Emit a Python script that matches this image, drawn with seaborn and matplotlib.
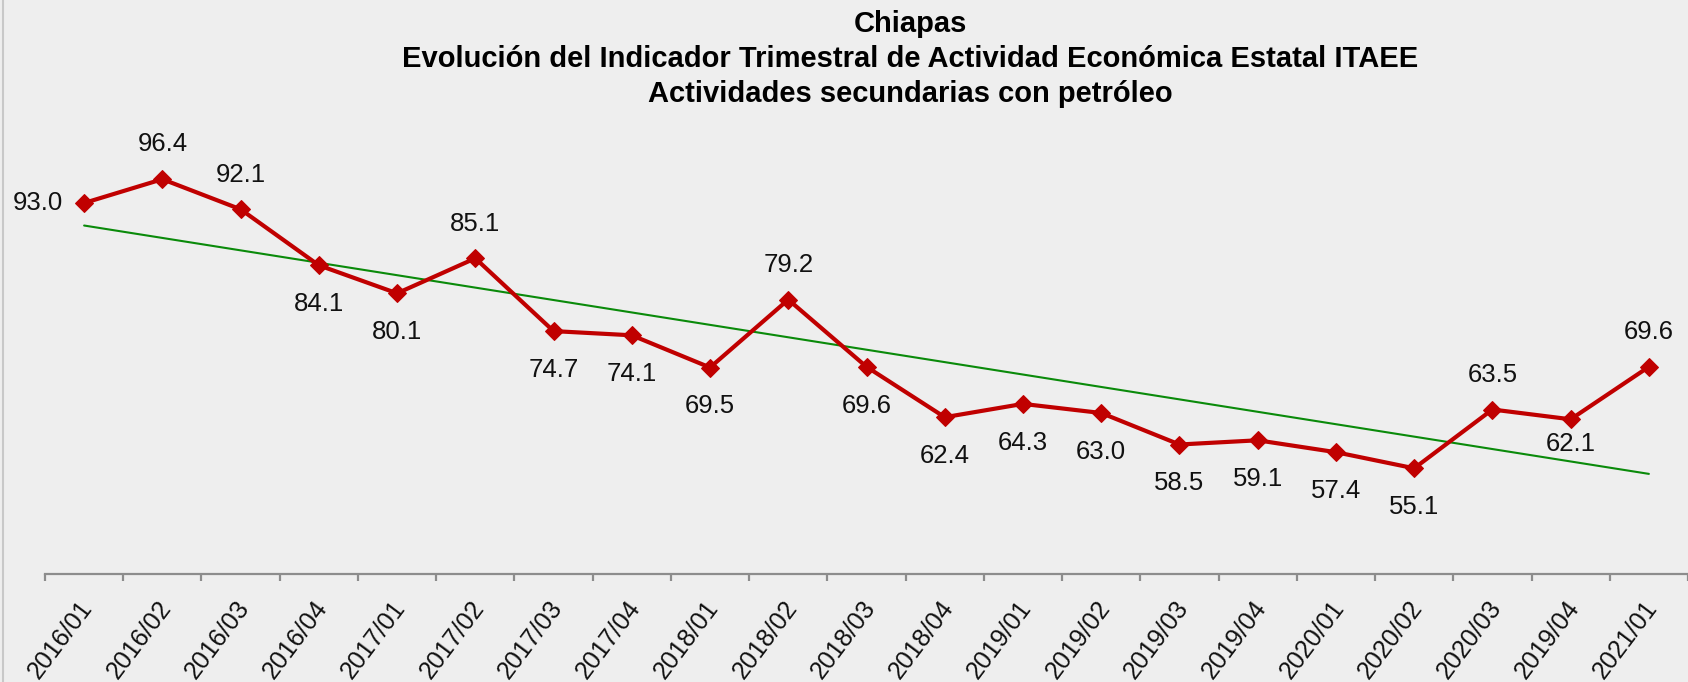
import numpy as np
import pandas as pd
import matplotlib
matplotlib.use("Agg")
import matplotlib.pyplot as plt
import matplotlib.transforms as mtransforms
import seaborn as sns

# ---------------- data ----------------
periods = ["2016/01", "2016/02", "2016/03", "2016/04", "2017/01", "2017/02", "2017/03",
           "2017/04", "2018/01", "2018/02", "2018/03", "2018/04", "2019/01", "2019/02",
           "2019/03", "2019/04", "2020/01", "2020/02", "2020/03", "2019/04", "2021/01"]
values = [93.0, 96.4, 92.1, 84.1, 80.1, 85.1, 74.7, 74.1, 69.5, 79.2, 69.6,
          62.4, 64.3, 63.0, 58.5, 59.1, 57.4, 55.1, 63.5, 62.1, 69.6]
label_side = ["left", "above", "above", "below", "below", "above", "below",
              "below", "below", "above", "below", "below", "below", "below",
              "below", "below", "below", "below", "above", "near_below", "above"]
title_lines = ["Chiapas",
               "Evolución del Indicador Trimestral de Actividad Económica Estatal ITAEE",
               "Actividades secundarias con petróleo"]

# ---------------- style ----------------
sns.set_theme(style="white")
plt.rcParams["font.family"] = ["Liberation Sans", "DejaVu Sans"]

W, H, DPI = 1688, 682, 100
BG = "#eeeeee"
RED = "#c00000"
GREEN = "#0a8a0a"

fig = plt.figure(figsize=(W / DPI, H / DPI), dpi=DPI, facecolor=BG)

x0_px, axis_y_px, top_px = 45, 574, 154
ax = fig.add_axes([x0_px / W, 1 - axis_y_px / H, (W - x0_px) / W, (axis_y_px - top_px) / H])
ax.set_facecolor("none")

df = pd.DataFrame({"pos": np.arange(len(values)), "value": values, "period": periods})

# trend line (linear fit)
sns.regplot(data=df, x="pos", y="value", scatter=False, ci=None, truncate=True,
            color=GREEN, line_kws={"linewidth": 1.5, "zorder": 2}, ax=ax)
# main series
sns.lineplot(data=df, x="pos", y="value", color=RED, linewidth=3, marker="D",
             markersize=9, markeredgecolor=RED, markerfacecolor=RED, zorder=3, ax=ax)

ax.set_xlim(-0.5, -0.5 + (W - x0_px) / 78.75)
ax.set_ylim(40, 100)

# data labels
offsets = {"above": (0, 25), "below": (0, -28), "near_below": (0, -18), "left": (-33, 0)}
for i, (v, side) in enumerate(zip(values, label_side)):
    ax.annotate(f"{v:.1f}", (i, v), xytext=offsets[side], textcoords="offset points",
                ha="center", va="center", fontsize=18.5, color="#111111", zorder=4)

# axes styling
for s in ["left", "right", "top"]:
    ax.spines[s].set_visible(False)
ax.spines["bottom"].set_color("#8c8c8c")
ax.spines["bottom"].set_linewidth(1.6)
ax.set_yticks([])
ax.set_xticks(df["pos"])
ax.set_xticklabels(periods, rotation=53, ha="right", va="center", rotation_mode="anchor",
                   fontsize=18, color="#111111")
ax.set_xticks(np.arange(-0.5, len(values) + 0.5, 1), minor=True)
ax.tick_params(axis="x", which="major", length=0, pad=21)
ax.tick_params(axis="x", which="minor", length=5, width=1.6, color="#8c8c8c", bottom=True)
ax.set_xlabel("")
ax.set_ylabel("")
shift = mtransforms.ScaledTranslation(4 / DPI, 0, fig.dpi_scale_trans)
for lab in ax.get_xticklabels():
    lab.set_transform(lab.get_transform() + shift)

# title
cx = 910 / W
for line, base in zip(title_lines, [32, 67, 102]):
    fig.text(cx, 1 - base / H, line, ha="center", va="baseline",
             fontsize=21, fontweight="bold", color="#000000")

# left border line
fig.add_artist(plt.Line2D([3 / W, 3 / W], [0, 1], transform=fig.transFigure,
                          color="#c8c8c8", linewidth=1.5))

fig.savefig("out.png", dpi=DPI, facecolor=BG)
